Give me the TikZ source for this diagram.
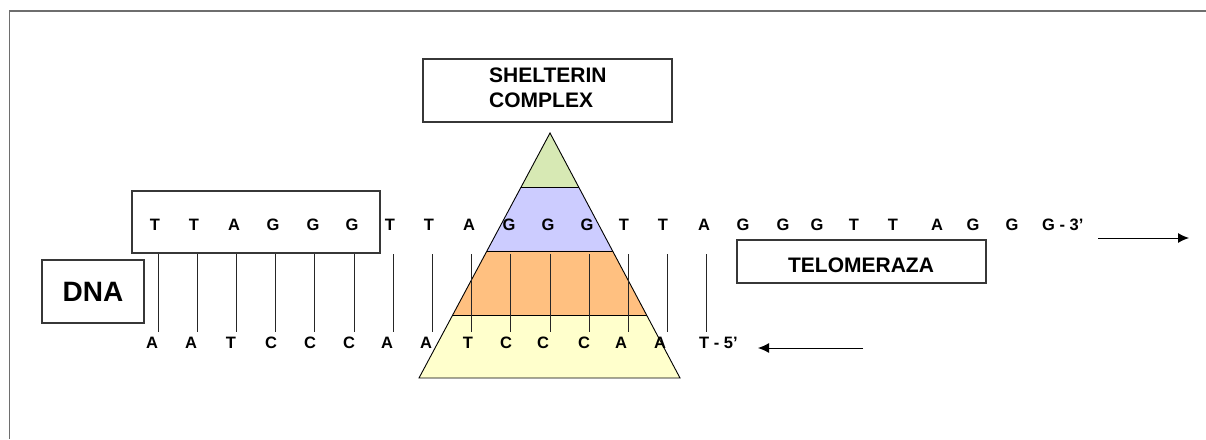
\documentclass[tikz,border=0pt]{standalone}
\usepackage{fontspec}
\setmainfont{Liberation Sans}
\usetikzlibrary{calc,arrows.meta}
\definecolor{bandgreen}{RGB}{215,233,180}
\definecolor{bandblue}{RGB}{204,204,255}
\definecolor{bandorange}{RGB}{255,192,128}
\definecolor{bandyellow}{RGB}{255,255,204}
\definecolor{framegray}{RGB}{110,110,110}
\definecolor{boxgray}{RGB}{55,55,55}
\begin{document}
\begin{tikzpicture}[x=1pt,y=-1pt,
  base/.style={font=\fontsize{16.5}{19}\selectfont\bfseries, inner sep=0pt},
  lbox/.style={draw=boxgray, line width=1.2pt},
  label/.style={font=\fontsize{21}{25}\selectfont\bfseries, inner sep=0pt},
  pair/.style={draw=black!85, line width=1pt},
  band/.style={draw=black, line width=0.9pt, line join=miter},
  arr/.style={line width=1pt, -{Latex[length=11pt,width=10pt]}}]
\useasboundingbox (0,0) rectangle (1206,439);
% frame
\draw[framegray, line width=1.5pt] (1206,11) -- (9.5,11) -- (9.5,439);

% pyramid
\coordinate (apex) at (550,133);
\coordinate (bl) at (419,378);
\coordinate (br) at (680,378);
\coordinate (l1) at ($(apex)!0.2204!(bl)$);
\coordinate (r1) at ($(apex)!0.2204!(br)$);
\coordinate (l2) at ($(apex)!0.4816!(bl)$);
\coordinate (r2) at ($(apex)!0.4816!(br)$);
\coordinate (l3) at ($(apex)!0.7429!(bl)$);
\coordinate (r3) at ($(apex)!0.7429!(br)$);
\fill[bandgreen] (apex) -- (r1) -- (l1) -- cycle;
\fill[bandblue] (l1) -- (r1) -- (r2) -- (l2) -- cycle;
\fill[bandorange] (l2) -- (r2) -- (r3) -- (l3) -- cycle;
\fill[bandyellow] (l3) -- (r3) -- (br) -- (bl) -- cycle;
\draw[band] (apex) -- (br) -- (bl) -- cycle;
\draw[band] (l1) -- (r1);
\draw[band] (l2) -- (r2);
\draw[band] (l3) -- (r3);

% boxes
\draw[lbox] (132,191) rectangle (380,253);
\node[lbox, minimum width=102pt, minimum height=63pt, inner sep=0pt, font=\fontsize{28}{32}\selectfont\bfseries] (dna) at (93,291.5) {DNA};
\node[lbox, minimum width=249pt, minimum height=63pt, inner sep=0pt] (shelbox) at (547.5,90.5) {};
\node[label, align=left, anchor=west] (shel) at (489,88) {SHELTERIN\\COMPLEX};
\node[lbox, minimum width=249pt, minimum height=43pt, inner sep=0pt] (telo) at (861.5,261.5) {};
\node[label] (telotext) at (861,265) {TELOMERAZA};

% base-pair rungs
\foreach \i in {0,...,14}{
  \coordinate (rt\i) at (158+39.2*\i,254);
  \coordinate (rb\i) at (158+39.2*\i,332);
  \draw[pair] (rt\i) -- (rb\i);
}

% top strand
\foreach \x/\b [count=\n] in {155/T,194/T,234/A,273/G,313/G,352/G,390/T,429/T,469/A,509/G,548/G,587/G,624/T,663/T,704/A,743/G,783/G,817/G,854/T,893/T,937/A,973/G,1012/G}{
  \node[base] (t\n) at (\x,225) {\b};
}
\node[base, anchor=west] (t24) at (1042,225) {G - 3’};
% bottom strand
\foreach \x/\b [count=\n] in {152/A,191/A,231/T,271/C,310/C,349/C,387/A,426/A,468/T,506/C,543/C,584/C,621/A,660/A}{
  \node[base] (b\n) at (\x,343) {\b};
}
\node[base, anchor=west] (b15) at (699,343) {T - 5’};

% arrows
\coordinate (a1s) at (1098,238);
\coordinate (a1e) at (1189,238);
\coordinate (a2s) at (863,348);
\coordinate (a2e) at (758,348);
\draw[arr] (a1s) -- (a1e);
\draw[arr] (a2s) -- (a2e);
\end{tikzpicture}
\end{document}
